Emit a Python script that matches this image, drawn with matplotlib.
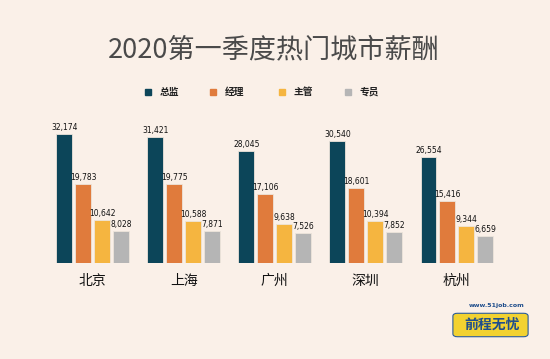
import matplotlib
matplotlib.use("Agg")
import matplotlib.pyplot as plt
from matplotlib.patches import FancyBboxPatch
import numpy as np

plt.rcParams['font.family'] = ['Noto Sans CJK SC', 'DejaVu Sans']

cities = ["北京", "上海", "广州", "深圳", "杭州"]
series_names = ["总监", "经理", "主管", "专员"]
director = [32174, 31421, 28045, 30540, 26554]
manager = [19783, 19775, 17106, 18601, 15416]
supervisor = [10642, 10588, 9638, 10394, 9344]
specialist = [8028, 7871, 7526, 7852, 6659]
colors = ["#0C4559", "#E07B3C", "#F5B540", "#B5B5B5"]
bg = "#FAF0E8"

fig = plt.figure(figsize=(5.5, 3.59), dpi=100, facecolor=bg)
ax = fig.add_axes([0.0855, 0.2674, 0.828, 0.4468])
ax.set_facecolor(bg)

x = np.arange(len(cities))
step = 0.2077
width = 0.175
data = [director, manager, supervisor, specialist]
for i, (vals, c, name) in enumerate(zip(data, colors, series_names)):
    pos = x + (i - 1.5) * step
    ax.bar(pos, vals, width=width, color=c, label=name, edgecolor="#EDE4DA", linewidth=0.6)
    for p, v in zip(pos, vals):
        ax.text(p, v + 500, f"{v:,}", ha="center", va="bottom", fontsize=5.5,
                family=["Liberation Sans Narrow", "DejaVu Sans"], color="#111111")

ax.set_xlim(-0.5, 4.5)
ax.set_ylim(0, 40000)
ax.set_yticks([])
ax.set_xticks(x)
ax.set_xticklabels(cities, fontsize=10, color="#111111")
ax.tick_params(axis="x", length=0, pad=8)
for s in ax.spines.values():
    s.set_visible(False)

fig.text(0.497, 0.862, "2020第一季度热门城市薪酬", ha="center", va="center",
         fontsize=19.5, color="#4A4A4A")

# legend
leg_x = [148, 213, 282, 348]
for lx, c, name in zip(leg_x, colors, series_names):
    fig.patches.append(plt.Rectangle(((lx - 3) / 550, 1 - 95 / 359), 6 / 550, 6 / 359,
                                     transform=fig.transFigure, color=c))
    fig.text((lx + 12) / 550, 1 - 92 / 359, name, ha="left", va="center",
             fontsize=7, fontweight="bold", color="#222222")

# 51job logo
logo = FancyBboxPatch((454 / 550, 1 - 336 / 359), 73 / 550, 22 / 359,
                      boxstyle="round,pad=0.002,rounding_size=0.008",
                      transform=fig.transFigure, facecolor="#F2D230",
                      edgecolor="#2B5C9A", linewidth=0.8)
fig.patches.append(logo)
fig.text(492 / 550, 1 - 325 / 359, "前程无忧", ha="center", va="center",
         fontsize=10, fontweight="bold", style="italic", color="#1F4E8C")
fig.text(497 / 550, 1 - 306 / 359, "www.51job.com", ha="center", va="center",
         fontsize=4.5, fontweight="bold", color="#1F4E8C", family=["DejaVu Sans"])

fig.savefig("out.png", dpi=100, facecolor=bg)
